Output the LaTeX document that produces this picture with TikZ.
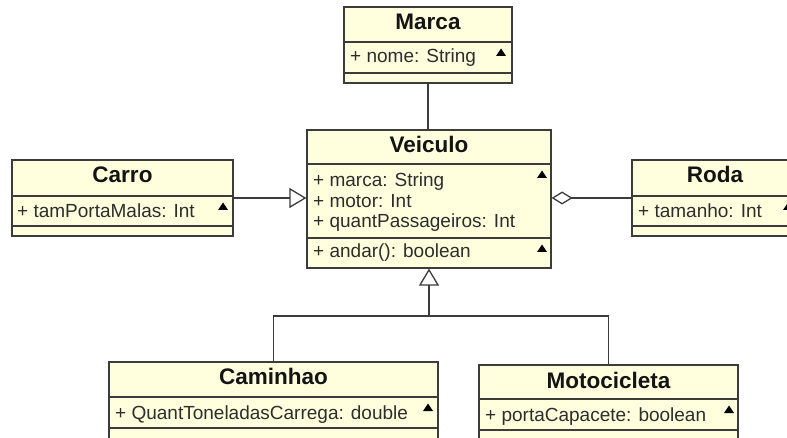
\documentclass[tikz,border=0pt]{standalone}
\usepackage{fontspec}
\setmainfont{Liberation Sans}
\usetikzlibrary{arrows.meta,fit}

\definecolor{classfill}{RGB}{255,255,222}
\definecolor{edgecol}{RGB}{60,60,60}
\definecolor{titlecol}{RGB}{20,20,20}
\definecolor{attrcol}{RGB}{45,45,45}

\tikzset{
  classbox/.style={draw=edgecol, fill=classfill, line width=1.2pt, inner sep=0pt},
  divider/.style={draw=edgecol, line width=1.2pt},
  classtitle/.style={anchor=base, inner sep=0pt, text=titlecol,
    font=\fontsize{22.5}{25}\selectfont\bfseries},
  attr/.style={anchor=base west, inner sep=0pt, text=attrcol,
    font=\fontsize{19}{21}\selectfont},
  link/.style={draw=edgecol, line width=1.2pt},
  gen/.style={link, -{Triangle[open, length=17pt, width=20pt, line width=1.3pt]}},
  agg/.style={link, -{Diamond[open, length=21pt, width=13pt, line width=1.3pt]}},
}

% class box: name, left, top, right, title rule, attribute rule, bottom, title, title baseline
\newcommand{\umlclass}[9]{%
  \node[classbox, fit={(#2,#3) (#4,#7)}] (#1) {};
  \draw[divider] (#2,#5) -- (#4,#5);
  \draw[divider] (#2,#6) -- (#4,#6);
  \node[classtitle] (#1-title) at ({(#2+#4)/2},#9) {#8};
}
% small visibility toggle mark at the right of a compartment
\newcommand{\vismark}[2]{%
  \fill[black] (#1-5,#2+4) -- (#1+5,#2+4) -- (#1,#2-3.5) -- cycle;
}

\begin{document}
\begin{tikzpicture}[x=1pt, y=-1pt]
  \useasboundingbox (0,0) rectangle (787,438);
  \clip (0,0) rectangle (787,438);
  \fill[white] (0,0) rectangle (787,438);

  \coordinate (split) at (429,316);

  \umlclass{marca}{344}{7}{512}{42}{73}{83}{Marca}{30}
  \node[attr] (marca-a1) at (350,63) {+ nome: String};
  \vismark{501}{52}

  \umlclass{veiculo}{307}{130}{551}{164}{238}{268}{Veiculo}{153}
  \node[attr] (veiculo-a1) at (313,187) {+ marca: String};
  \node[attr] (veiculo-a2) at (313,208) {+ motor: Int};
  \node[attr] (veiculo-a3) at (313,228) {+ quantPassageiros: Int};
  \node[attr] (veiculo-o1) at (313,258) {+ andar(): boolean};
  \vismark{542}{174}
  \vismark{542}{248}

  \umlclass{carro}{12}{160}{233}{196}{226}{236}{Carro}{183}
  \node[attr] (carro-a1) at (17,218) {+ tamPortaMalas: Int};
  \vismark{223}{206}

  \umlclass{roda}{632}{160}{798}{196}{226}{236}{Roda}{183}
  \node[attr] (roda-a1) at (638,218) {+ tamanho: Int};
  \vismark{788}{206}

  \umlclass{caminhao}{109}{362}{438}{397}{428}{446}{Caminhao}{384}
  \node[attr] (caminhao-a1) at (115,419) {+ QuantToneladasCarrega: double};
  \vismark{428}{407}

  \umlclass{motocicleta}{479}{365}{738}{399}{430}{448}{Motocicleta}{388}
  \node[attr] (motocicleta-a1) at (485,421) {+ portaCapacete: boolean};
  \vismark{729}{409}

  % associations between the classes
  \draw[link] (marca.south) -- (marca.south |- veiculo.north);
  \draw[gen] (carro.east) -- (carro.east -| veiculo.west);
  \draw[agg] (roda.west) -- (roda.west -| veiculo.east);
  \draw[link] (caminhao.north) |- (split);
  \draw[link] (motocicleta.north) |- (split);
  \draw[gen] (split) -- (split |- veiculo.south);
\end{tikzpicture}
\end{document}
